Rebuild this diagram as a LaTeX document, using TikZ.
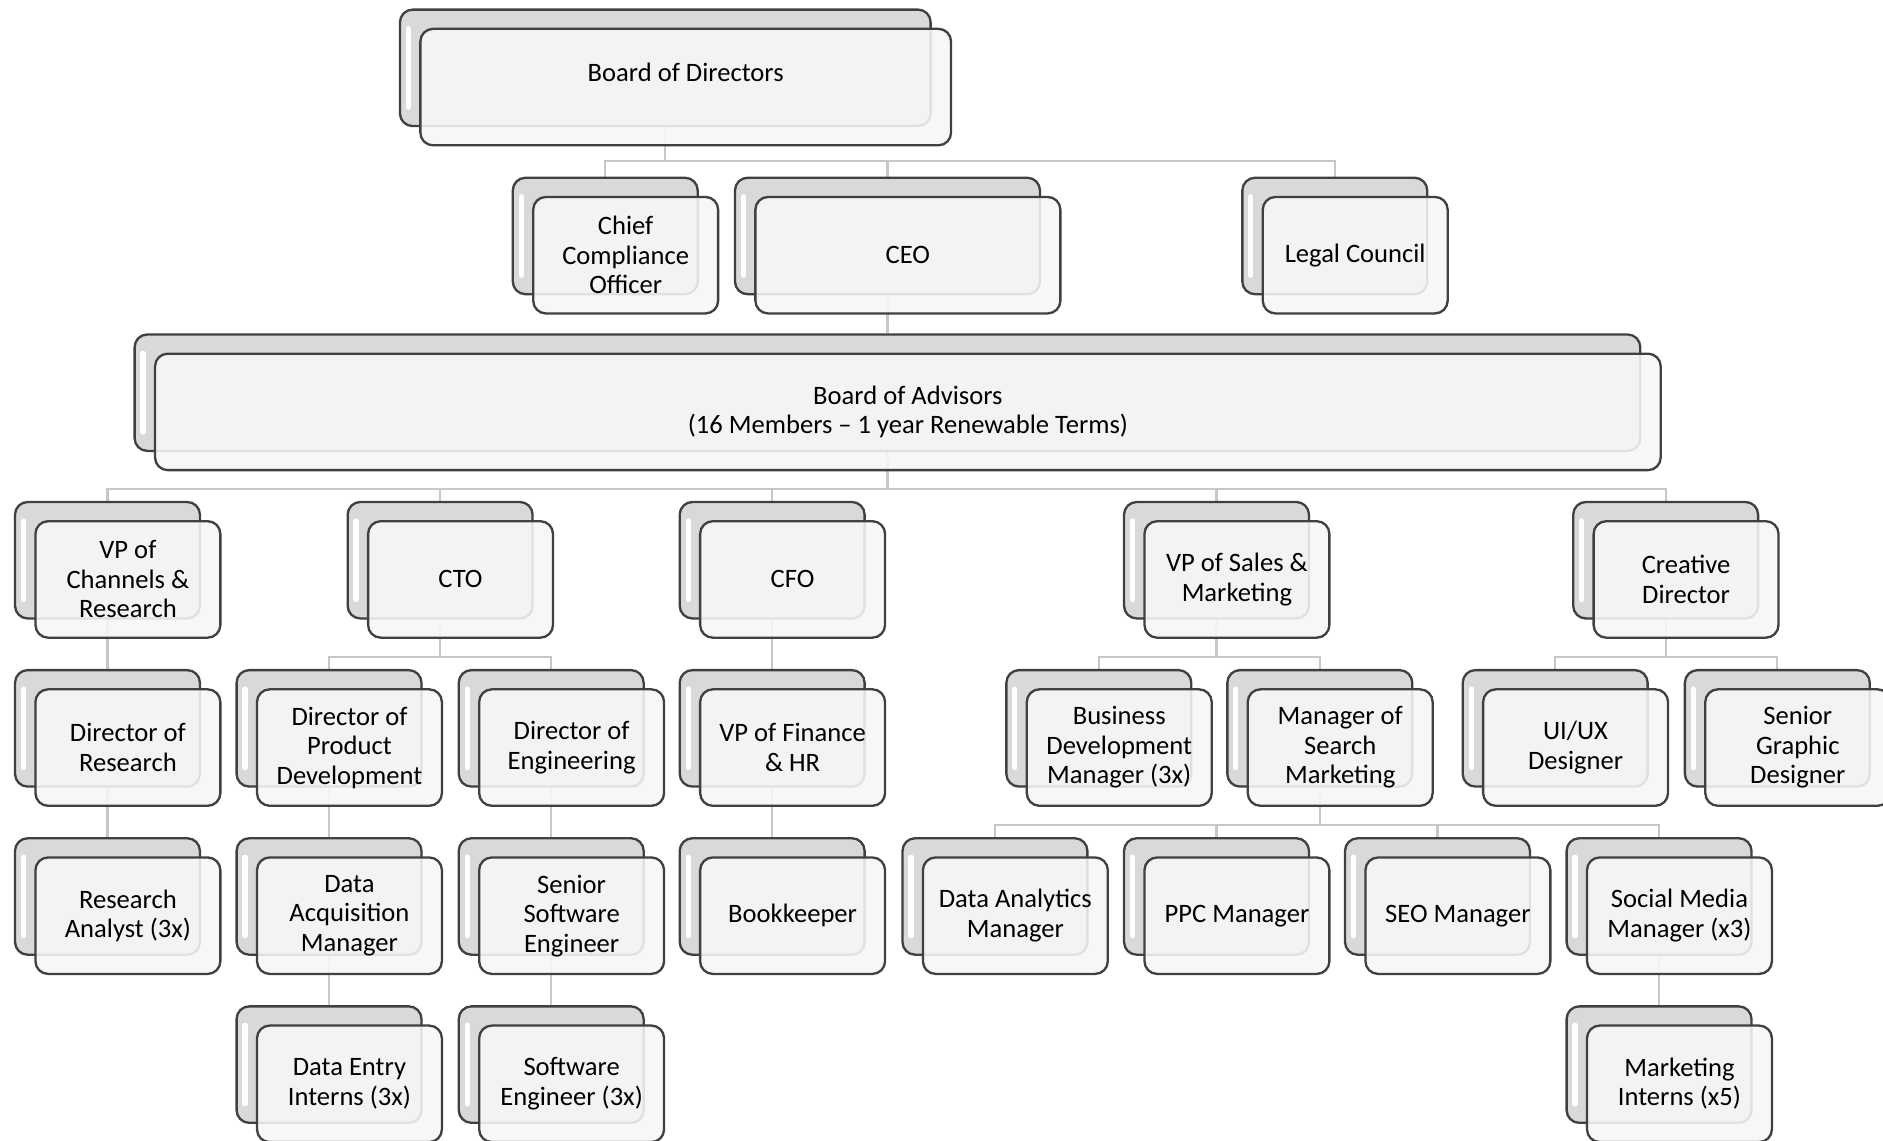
\documentclass[tikz,border=0pt]{standalone}
\usepackage{fontspec}
\setmainfont{Carlito}
\usetikzlibrary{backgrounds}

\tikzset{
  backbox/.style={draw=black!75, line width=1.1pt, rounded corners=6pt, fill=black!15,
    minimum height=1.94cm, inner sep=0pt,
    path picture={\draw[white, line width=2.5pt, line cap=round]
      ([shift={(4pt,-9pt)}]path picture bounding box.north west) --
      ([shift={(4pt,9pt)}]path picture bounding box.south west);}},
  frontbox/.style={draw=black!75, line width=1.1pt, rounded corners=6pt, fill=black!3,
    fill opacity=0.88, text opacity=1, minimum height=1.94cm, inner sep=0pt,
    align=center, font=\fontsize{12.6}{14}\selectfont},
  link/.style={draw=black!22, line width=1pt},
}
% one post: grey card behind, light card in front
\newcommand{\post}[5][]{%
  \node[backbox, minimum width=#3] (#2-bk) at (#4) {};
  \node[frontbox, minimum width=#3, #1] (#2) at ([shift={(17,16)}]#2-bk.center) {#5};
}

\begin{document}
\begin{tikzpicture}[x=0.02cm,y=-0.02cm]
  \useasboundingbox (0,0) rectangle (1568,950);

  % top
  \post{bod}{8.84cm}{554,56.5}{Board of Directors\\~}
  \post{cco}{3.08cm}{504,196.5}{Chief\\Compliance\\Officer}
  \post{ceo}{5.08cm}{739,196.5}{CEO}
  \post{legal}{3.08cm}{1111.5,196.5}{Legal Council}
  \post{boa}{25.08cm}{739,327}{Board of Advisors\\(16 Members -- 1 year Renewable Terms)}

  % heads
  \post{vpcr}{3.08cm}{89.5,466.5}{VP of\\Channels \&\\Research}
  \post{cto}{3.08cm}{366.5,466.5}{CTO}
  \post{cfo}{3.08cm}{643,466.5}{CFO}
  \post{vpsm}{3.08cm}{1013,466.5}{VP of Sales \&\\Marketing}
  \post{cd}{3.08cm}{1387,466.5}{Creative\\Director}

  % second line
  \post{dor}{3.08cm}{89.5,606.5}{Director of\\Research}
  \post{dpd}{3.08cm}{274,606.5}{Director of\\Product\\Development}
  \post{doe}{3.08cm}{459,606.5}{Director of\\Engineering}
  \post{vpf}{3.08cm}{643,606.5}{VP of Finance\\\& HR}
  \post{bdm}{3.08cm}{915,606.5}{Business\\Development\\Manager (3x)}
  \post{msm}{3.08cm}{1099,606.5}{Manager of\\Search\\Marketing}
  \post{uiux}{3.08cm}{1295,606.5}{UI/UX\\Designer}
  \post{sgd}{3.08cm}{1480,606.5}{Senior\\Graphic\\Designer}

  % third line
  \post{ra}{3.08cm}{89.5,746.5}{Research\\Analyst (3x)}
  \post{dam}{3.08cm}{274,746.5}{Data\\Acquisition\\Manager}
  \post{sse}{3.08cm}{459,746.5}{Senior\\Software\\Engineer}
  \post{bk}{3.08cm}{643,746.5}{Bookkeeper}
  \post{dan}{3.08cm}{828.5,746.5}{Data Analytics\\Manager}
  \post{ppc}{3.08cm}{1013,746.5}{PPC Manager}
  \post{seo}{3.08cm}{1197,746.5}{SEO Manager}
  \post{smm}{3.08cm}{1381.5,746.5}{Social Media\\Manager (x3)}

  % bottom line
  \post{dei}{3.08cm}{274,886.5}{Data Entry\\Interns (3x)}
  \post{se}{3.08cm}{459,886.5}{Software\\Engineer (3x)}
  \post{mi}{3.08cm}{1381.5,886.5}{Marketing\\Interns (x5)}

  % connectors
  \begin{scope}[on background layer]
    \fill[white] (0,0) rectangle (1568,950);
    \foreach \c in {cco,ceo,legal}
      \draw[link] (bod-bk.south) -- ++(0,28) -| (\c-bk.north);
    \draw[link] (ceo-bk.south) -- (boa-bk.north);
    \foreach \c in {vpcr,cto,cfo,vpsm,cd}
      \draw[link] (boa-bk.south) -- ++(0,31) -| (\c-bk.north);
    \foreach \c in {dpd,doe}
      \draw[link] (cto-bk.south) -- ++(0,31) -| (\c-bk.north);
    \foreach \c in {bdm,msm}
      \draw[link] (vpsm-bk.south) -- ++(0,31) -| (\c-bk.north);
    \foreach \c in {uiux,sgd}
      \draw[link] (cd-bk.south) -- ++(0,31) -| (\c-bk.north);
    \foreach \c in {dan,ppc,seo,smm}
      \draw[link] (msm-bk.south) -- ++(0,31) -| (\c-bk.north);
    \foreach \a/\b in {vpcr/dor,dor/ra,cfo/vpf,vpf/bk,dpd/dam,dam/dei,doe/sse,sse/se,smm/mi}
      \draw[link] (\a-bk.south) -- (\b-bk.north);
  \end{scope}
\end{tikzpicture}
\end{document}
